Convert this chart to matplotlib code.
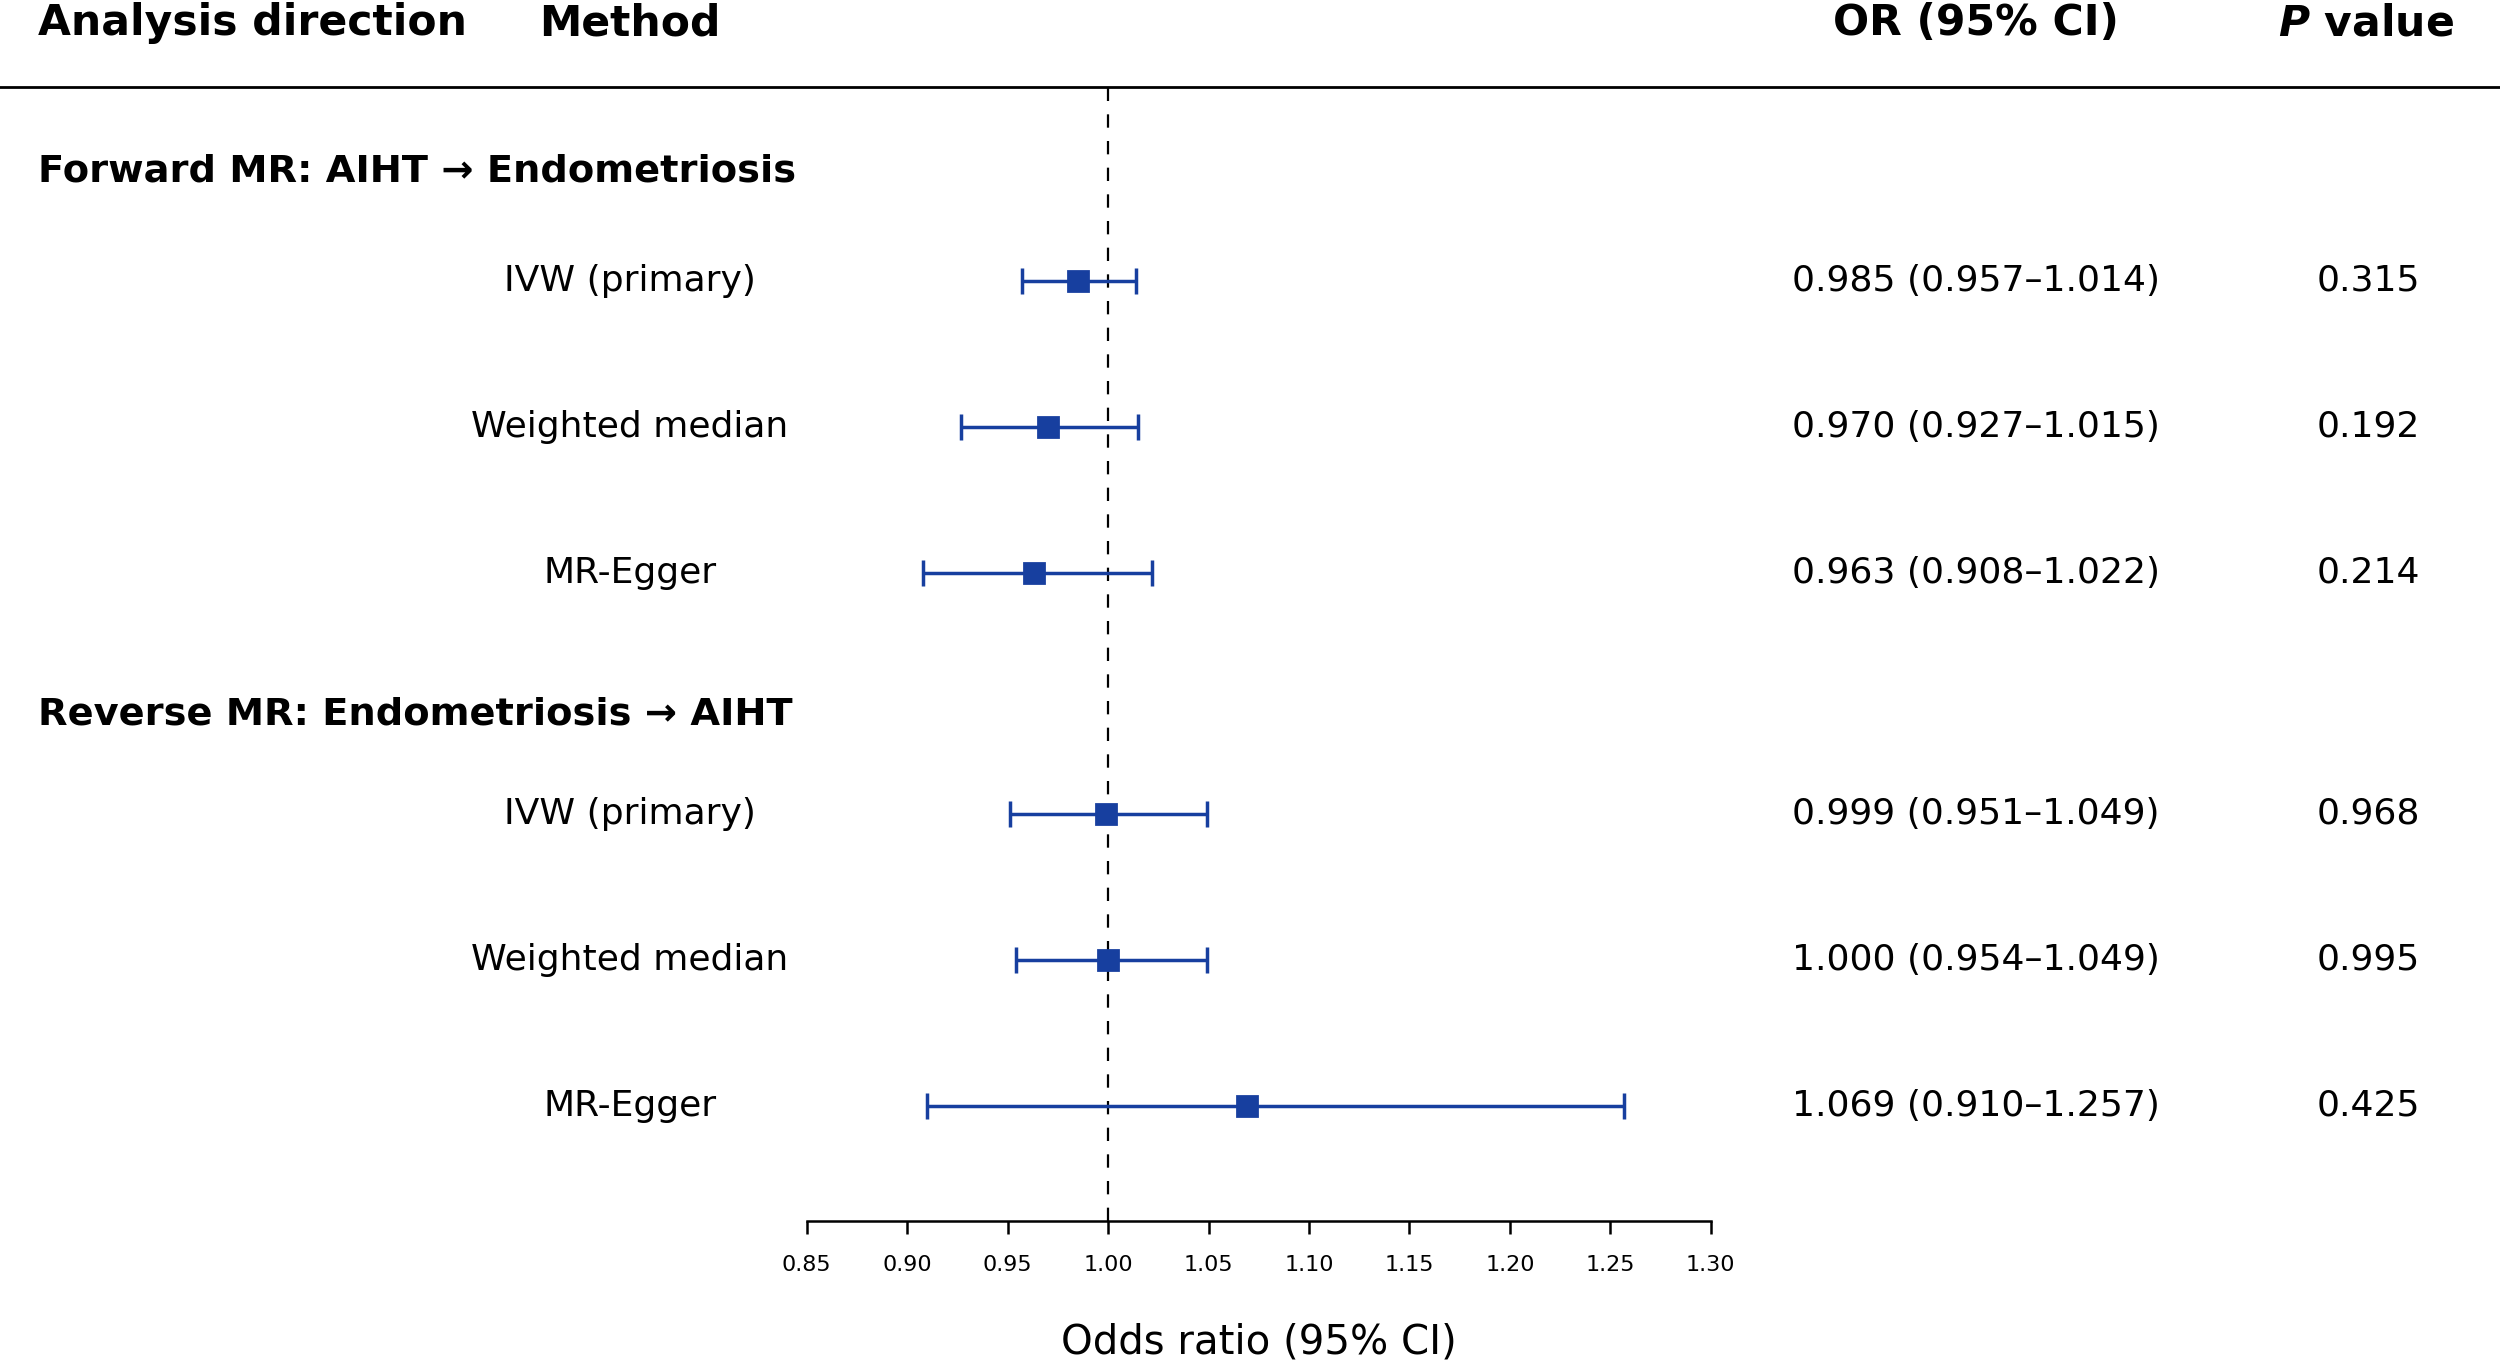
import matplotlib
matplotlib.use("Agg")
import matplotlib.pyplot as plt
import matplotlib.transforms as mtransforms
from matplotlib.lines import Line2D

plt.rcParams['font.family'] = ['DejaVu Sans']
plt.rcParams['mathtext.fontset'] = 'custom'
plt.rcParams['mathtext.it'] = 'DejaVu Sans:italic:bold'
plt.rcParams['mathtext.rm'] = 'DejaVu Sans:bold'

# ---------------- data ----------------
sections = ["Forward MR: AIHT \u2192 Endometriosis",
            "Reverse MR: Endometriosis \u2192 AIHT"]
methods = ["IVW (primary)", "Weighted median", "MR-Egger"]

fwd_or = [0.985, 0.970, 0.963]
fwd_lo = [0.957, 0.927, 0.908]
fwd_hi = [1.014, 1.015, 1.022]
fwd_p = [0.315, 0.192, 0.214]

rev_or = [0.999, 1.000, 1.069]
rev_lo = [0.951, 0.954, 0.910]
rev_hi = [1.049, 1.049, 1.257]
rev_p = [0.968, 0.995, 0.425]

xticks = [0.85, 0.90, 0.95, 1.00, 1.05, 1.10, 1.15, 1.20, 1.25, 1.30]
col_headers = ["Analysis direction", "Method", "OR (95% CI)", r"$\mathit{P}$ value"]
xlabel = "Odds ratio (95% CI)"

# ---------------- layout ----------------
BLUE = "#173f9f"
W, H = 1568.0, 858.0
fig = plt.figure(figsize=(12.5, 6.84), dpi=200)
ax_left, ax_right = 506 / W, 1073 / W
ax_bot, ax_top = 1 - 766 / H, 1 - 54.4 / H
ax = fig.add_axes([ax_left, ax_bot, ax_right - ax_left, ax_top - ax_bot])

row_y = [[1.0, 2.0, 3.0], [4.65, 5.65, 6.65]]
sec_y = [0.25, 3.97]
ax.set_ylim(7.44, -0.33)
ax.set_xlim(xticks[0], xticks[-1])

ax.axvline(1.0, color="black", lw=0.8, ls=(0, (6, 6)), zorder=1)

trans = mtransforms.blended_transform_factory(fig.transFigure, ax.transData)

groups = [(fwd_or, fwd_lo, fwd_hi, fwd_p), (rev_or, rev_lo, rev_hi, rev_p)]
for g, (orv, lo, hi, pv) in enumerate(groups):
    ys = row_y[g]
    xerr = [[o - l for o, l in zip(orv, lo)], [h - o for o, h in zip(orv, hi)]]
    ax.errorbar(orv, ys, xerr=xerr, fmt="s", color=BLUE, ecolor=BLUE,
                ms=7.5, mec=BLUE, mfc=BLUE, elinewidth=1.25, capsize=4.8,
                capthick=1.25, zorder=3)
    ax.text(24 / W, sec_y[g], sections[g], transform=trans, ha="left",
            va="center", fontsize=13.8, fontweight="bold", clip_on=False)
    for i, y in enumerate(ys):
        ax.text(395 / W, y, methods[i], transform=trans, ha="center",
                va="center", fontsize=13, clip_on=False)
        ax.text(1239.5 / W, y, f"{orv[i]:.3f} ({lo[i]:.3f}\u2013{hi[i]:.3f})",
                transform=trans, ha="center", va="center", fontsize=13,
                clip_on=False)
        ax.text(1485.5 / W, y, f"{pv[i]:.3f}", transform=trans, ha="center",
                va="center", fontsize=13, clip_on=False)

# column headers
hy = 1 - 14.5 / H
fig.text(24 / W, hy, col_headers[0], ha="left", va="center", fontsize=15.3, fontweight="bold")
fig.text(338 / W, hy, col_headers[1], ha="left", va="center", fontsize=15.3, fontweight="bold")
fig.text(1239.5 / W, hy, col_headers[2], ha="center", va="center", fontsize=15.3, fontweight="bold")
fig.text(1484 / W, hy, col_headers[3], ha="center", va="center", fontsize=15.3, fontweight="bold")

# header rule
fig.add_artist(Line2D([0, 1], [ax_top, ax_top], transform=fig.transFigure,
                      color="black", lw=1.0))

# axes styling
for s in ["top", "left", "right"]:
    ax.spines[s].set_visible(False)
ax.spines["bottom"].set_linewidth(0.9)
ax.set_yticks([])
ax.set_xticks(xticks)
ax.set_xticklabels([f"{t:.2f}" for t in xticks], fontsize=8)
ax.tick_params(axis="x", length=4.6, width=0.9, pad=7.5)
ax.set_xlabel(xlabel, fontsize=14.5)
ax.xaxis.set_label_coords(0.5, -(842 - 766) / (766 - 54.4))
ax.xaxis.label.set_va("center")

fig.savefig("out.png", dpi=200, facecolor="white")
